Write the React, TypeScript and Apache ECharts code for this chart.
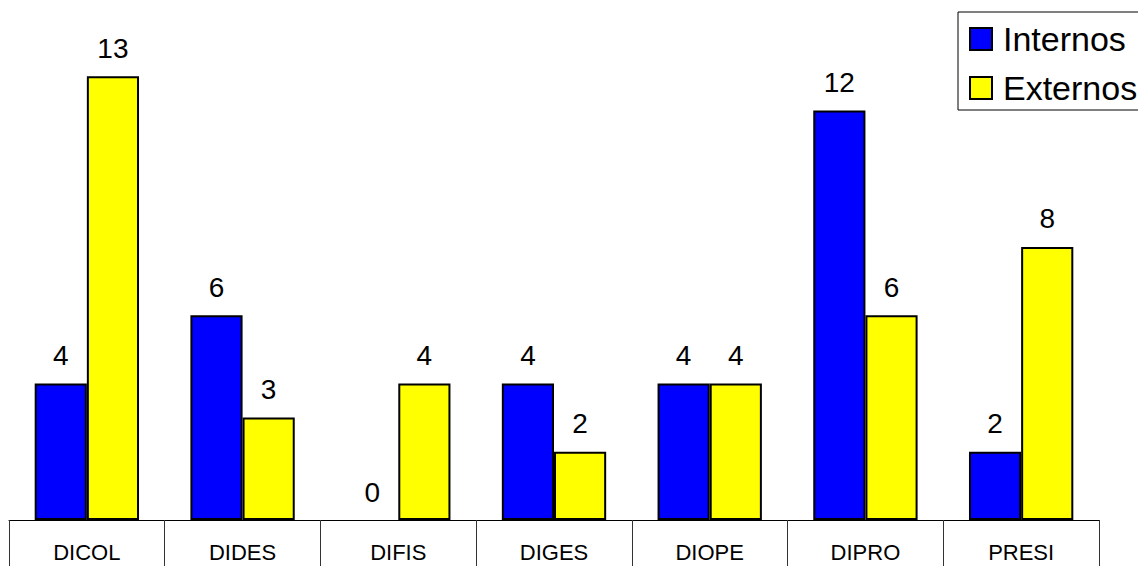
import React, { useEffect, useRef } from "react";
import * as echarts from "echarts";

const categories = ["DICOL", "DIDES", "DIFIS", "DIGES", "DIOPE", "DIPRO", "PRESI"];
const internos = [4, 6, 0, 4, 4, 12, 2];
const externos = [13, 3, 4, 2, 4, 6, 8];

const FONT = "'Liberation Sans', Arial, sans-serif";

// A bar of zero height gets no outline, so only its label shows.
const toBarData = (values: number[]) =>
  values.map((v) => (v === 0 ? { value: v, itemStyle: { borderWidth: 0 } } : v));

export default function App() {
  const ref = useRef<HTMLDivElement>(null);

  useEffect(() => {
    if (!ref.current) return;
    const chart = echarts.init(ref.current, undefined, { renderer: "svg" });

    const valueLabel = {
      show: true,
      position: "top" as const,
      distance: 14,
      fontSize: 28,
      fontFamily: FONT,
      color: "#000",
    };

    chart.setOption({
      animation: false,
      backgroundColor: "#fff",
      textStyle: { fontFamily: FONT },
      grid: { left: 9, right: 39, top: 8, bottom: 46, containLabel: false },
      legend: {
        left: 958,
        top: 12,
        orient: "vertical",
        icon: "rect",
        itemWidth: 22,
        itemHeight: 22,
        itemGap: 15,
        padding: [10, 30, 5, 11],
        borderColor: "#000",
        borderWidth: 1,
        textStyle: { fontSize: 34, color: "#000", fontFamily: FONT, padding: [0, 0, 0, 6] },
        data: ["Internos", "Externos"],
      },
      xAxis: {
        type: "category",
        data: categories,
        boundaryGap: true,
        axisLine: { show: true, lineStyle: { color: "#000", width: 1 } },
        axisTick: {
          show: true,
          alignWithLabel: false,
          length: 46,
          lineStyle: { color: "#333", width: 1 },
        },
        axisLabel: { fontSize: 22, color: "#000", margin: 21, fontFamily: FONT },
      },
      yAxis: {
        type: "value",
        min: 0,
        max: 15,
        show: false,
        splitLine: { show: false },
      },
      series: [
        {
          name: "Internos",
          type: "bar",
          data: toBarData(internos),
          barGap: "0%",
          barCategoryGap: "33%",
          itemStyle: { color: "#0000FF", borderColor: "#000", borderWidth: 2 },
          label: valueLabel,
        },
        {
          name: "Externos",
          type: "bar",
          data: toBarData(externos),
          barGap: "0%",
          barCategoryGap: "33%",
          itemStyle: { color: "#FFFF00", borderColor: "#000", borderWidth: 2 },
          label: valueLabel,
        },
      ],
    });

    return () => chart.dispose();
  }, []);

  return (
    <div
      ref={ref}
      style={{ position: "absolute", left: 0, top: 0, width: 1138, height: 566 }}
    />
  );
}
